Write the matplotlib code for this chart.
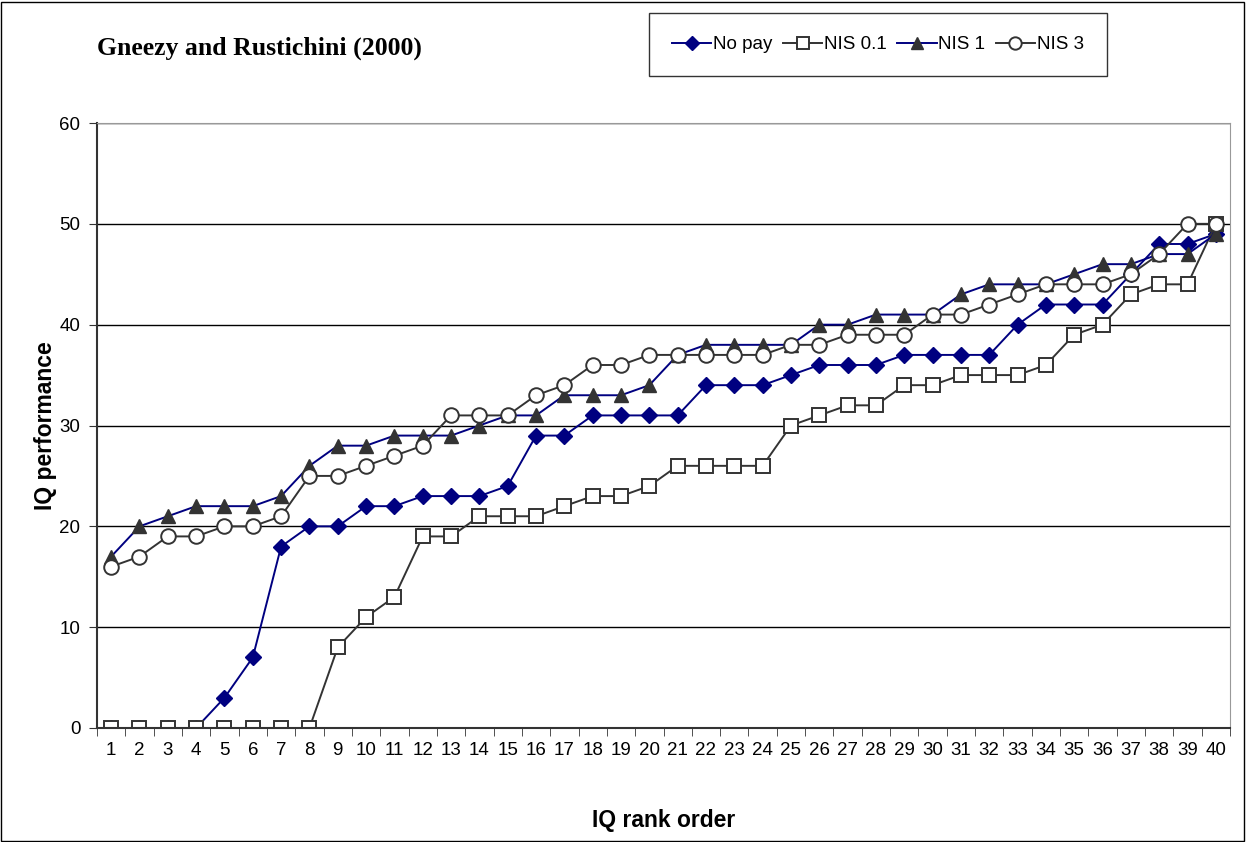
import numpy as np
import matplotlib.pyplot as plt
from matplotlib.patches import Rectangle

rank = list(range(1, 41))
no_pay = [0, 0, 0, 0, 3, 7, 18, 20, 20, 22, 22, 23, 23, 23, 24, 29, 29, 31, 31, 31,
          31, 34, 34, 34, 35, 36, 36, 36, 37, 37, 37, 37, 40, 42, 42, 42, 45, 48, 48, 49]
nis_01 = [0, 0, 0, 0, 0, 0, 0, 0, 8, 11, 13, 19, 19, 21, 21, 21, 22, 23, 23, 24,
          26, 26, 26, 26, 30, 31, 32, 32, 34, 34, 35, 35, 35, 36, 39, 40, 43, 44, 44, 50]
nis_1 = [17, 20, 21, 22, 22, 22, 23, 26, 28, 28, 29, 29, 29, 30, 31, 31, 33, 33, 33, 34,
         37, 38, 38, 38, 38, 40, 40, 41, 41, 41, 43, 44, 44, 44, 45, 46, 46, 47, 47, 49]
nis_3 = [16, 17, 19, 19, 20, 20, 21, 25, 25, 26, 27, 28, 31, 31, 31, 33, 34, 36, 36, 37,
         37, 37, 37, 37, 38, 38, 39, 39, 39, 41, 41, 42, 43, 44, 44, 44, 45, 47, 50, 50]

plt.rcParams['font.family'] = ['Liberation Sans', 'DejaVu Sans']

navy = '#000080'
gray = '#333333'

fig = plt.figure(figsize=(12.46, 8.42), dpi=100)
ax = fig.add_axes([97 / 1246, 1 - 728 / 842, 1133 / 1246, 605 / 842])

ax.plot(rank, no_pay, color=navy, lw=1.4, marker='D', ms=8.5, mfc=navy, mec=navy, label='No pay')
ax.plot(rank, nis_01, color=gray, lw=1.4, marker='s', ms=10, mfc='white', mec=gray, mew=1.4, label='NIS 0.1')
ax.plot(rank, nis_1, color=navy, lw=1.4, marker='^', ms=10.5, mfc=gray, mec=gray, label='NIS 1')
ax.plot(rank, nis_3, color=gray, lw=1.4, marker='o', ms=10.5, mfc='white', mec=gray, mew=1.4, label='NIS 3')

ax.set_xlim(0.5, 40.5)
ax.set_ylim(0, 60)
ax.set_yticks(range(0, 61, 10))
ax.yaxis.grid(True, color='black', lw=1)
ax.set_axisbelow(True)
ax.set_xticks(rank)
ax.set_xticks(np.arange(0.5, 41, 1), minor=True)
ax.tick_params(axis='x', which='major', length=0, labelsize=13.5, pad=10)
ax.tick_params(axis='x', which='minor', length=6, direction='out', color=gray)
ax.tick_params(axis='y', length=6, direction='out', labelsize=13.5, color=gray, pad=6)
for s in ['top', 'right']:
    ax.spines[s].set_color('#999999')
for s in ['left', 'bottom']:
    ax.spines[s].set_color(gray)
    ax.spines[s].set_linewidth(1.5)

ax.set_xlabel('IQ rank order', fontsize=16.5, fontweight='bold', labelpad=36)
ax.set_ylabel('IQ performance', fontsize=16.5, fontweight='bold', labelpad=2)

fig.text(97 / 1246, 1 - 48 / 842, 'Gneezy and Rustichini (2000)', fontsize=18.5, fontweight='bold',
         family=['Liberation Serif', 'DejaVu Serif'], va='center', ha='left')

leg = fig.legend(loc='center', bbox_to_anchor=(878 / 1246, 1 - 44.5 / 842), ncol=4, frameon=True,
                 fancybox=False, edgecolor='black', fontsize=13.5, handlelength=2.1,
                 handletextpad=0.1, columnspacing=0.55, borderpad=1.2, borderaxespad=0,
                 markerscale=0.85)
leg.get_frame().set_linewidth(1)

fig.patches.append(Rectangle((0.001, 0.001), 0.997, 0.997, transform=fig.transFigure,
                             fill=False, edgecolor='black', lw=1))

fig.savefig('out.png', dpi=100)
